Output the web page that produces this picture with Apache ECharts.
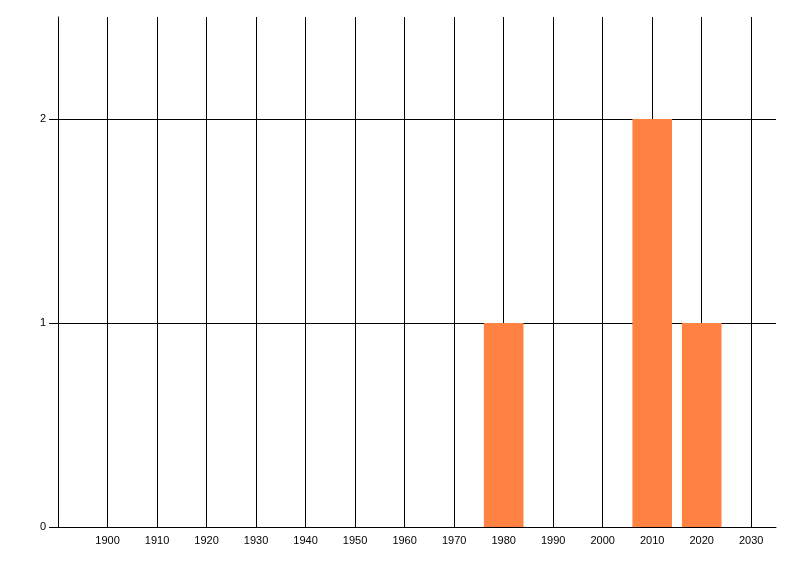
<!DOCTYPE html>
<html>
<head>
<meta charset="utf-8">
<style>html,body{margin:0;padding:0;background:#fff}#c{width:800px;height:576px}</style>
<script src="https://cdn.jsdelivr.net/npm/echarts@6/dist/echarts.min.js"></script>
</head>
<body>
<div id="c"></div>
<script>
const binCenters = [1980, 2010, 2020];
const counts = [1, 2, 1];
const binWidth = 8;
const xMin = 1890, xMax = 2035, xStep = 10;
const yMin = 0, yMax = 2.5, yStep = 1;

const chart = echarts.init(document.getElementById('c'), null, {renderer: 'canvas'});
const font = {fontFamily: 'Liberation Sans', fontSize: 11, color: '#000'};
chart.setOption({
  animation: false,
  grid: {left: 58, right: 24, top: 17, bottom: 49, containLabel: false},
  xAxis: {
    type: 'value', min: xMin, max: xMax, interval: xStep,
    axisLine: {show: true, onZero: false, lineStyle: {color: '#000', width: 1}},
    axisTick: {show: false},
    axisLabel: Object.assign({margin: 8, showMinLabel: true, showMaxLabel: false,
      formatter: v => (v === xMin ? '' : String(v))}, font),
    splitLine: {show: true, showMaxLine: false, lineStyle: {color: '#000', width: 1}}
  },
  yAxis: {
    type: 'value', min: yMin, max: yMax, interval: yStep,
    axisLine: {show: true, lineStyle: {color: '#000', width: 1}},
    axisTick: {show: true, length: 9, lineStyle: {color: '#000'}},
    axisLabel: Object.assign({margin: 12, showMaxLabel: false}, font),
    splitLine: {show: true, showMaxLine: false, lineStyle: {color: '#000', width: 1}}
  },
  series: [{
    type: 'custom',
    data: binCenters.map((c, i) => [c, counts[i]]),
    renderItem: function (params, api) {
      const c = api.value(0), v = api.value(1);
      const p0 = api.coord([c - binWidth / 2, v]);
      const p1 = api.coord([c + binWidth / 2, 0]);
      return {type: 'rect', shape: {x: p0[0], y: p0[1], width: p1[0] - p0[0], height: p1[1] - p0[1]},
        style: {fill: '#ff8242'}};
    },
    z: 5
  }]
});
</script>
</body>
</html>
